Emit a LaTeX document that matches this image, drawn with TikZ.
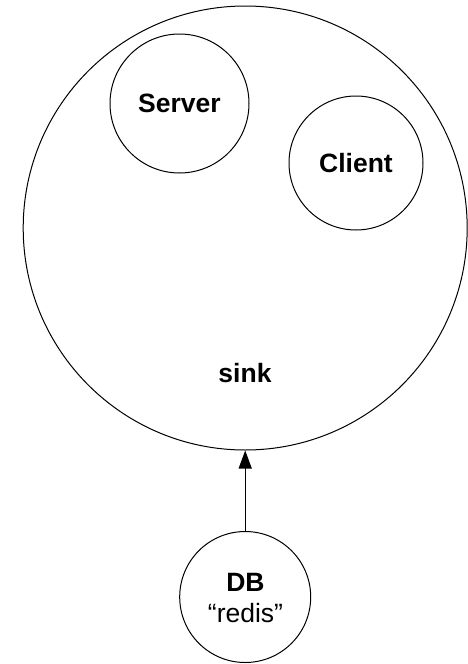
\documentclass[tikz,border=0pt]{standalone}
\usepackage{fontspec}
\setmainfont{Liberation Sans}
\usetikzlibrary{arrows.meta}
\tikzset{
  ring/.style={draw=black, line width=1pt, circle, inner sep=0pt},
  lbl/.style={font=\fontsize{26.5}{31}\selectfont\bfseries, inner sep=0pt},
  link/.style={line width=1.3pt, -{Triangle[length=18pt,width=13pt]}}
}
\begin{document}
\begin{tikzpicture}[x=1pt,y=-1pt]
  \useasboundingbox (0,0) rectangle (468,664);
  % outer process circle
  \node[ring, minimum size=444pt] (sink) at (245.2,228) {};
  \node[lbl] (sinktext) at (245,373) {sink};
  % nested components
  \node[ring, minimum size=139pt, lbl] (server) at (179.5,103.5) {Server};
  \node[ring, minimum size=134pt, lbl] (client) at (356,163) {Client};
  % database feeding the sink
  \node[ring, minimum size=131pt] (db) at (245.2,597) {};
  \node[lbl] (dbtext) at (245.5,582) {DB};
  \node[font=\fontsize{26.5}{31}\selectfont, inner sep=0pt] (redis) at (245.5,613) {“redis”};
  \draw[link] (db) -- (sink);
\end{tikzpicture}
\end{document}
